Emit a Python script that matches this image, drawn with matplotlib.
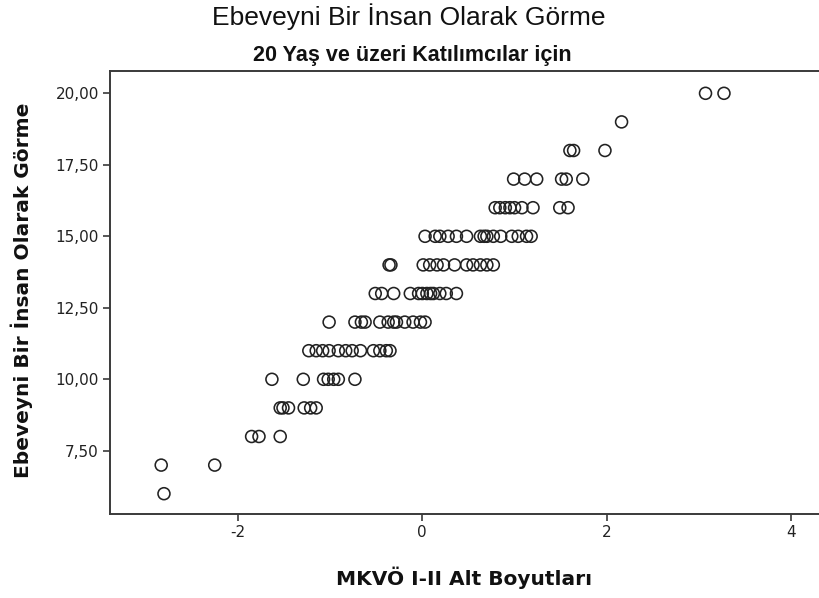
import matplotlib
matplotlib.use("Agg")
import matplotlib.pyplot as plt
from matplotlib.ticker import FuncFormatter

# ---- data ----
y_levels = [6, 7, 8, 9, 10, 11, 12, 13, 14, 15, 16, 17, 18, 19, 20]
x_at_6 = [-2.80]
x_at_7 = [-2.83, -2.25]
x_at_8 = [-1.85, -1.77, -1.54]
x_at_9 = [-1.54, -1.51, -1.45, -1.28, -1.21, -1.15]
x_at_10 = [-1.63, -1.29, -1.07, -1.02, -0.96, -0.91, -0.73]
x_at_11 = [-1.23, -1.15, -1.08, -1.01, -0.91, -0.83, -0.76, -0.67, -0.53, -0.46, -0.39, -0.35]
x_at_12 = [-1.01, -0.73, -0.66, -0.62, -0.46, -0.37, -0.31, -0.28, -0.19, -0.10, -0.02, 0.03]
x_at_13 = [-0.51, -0.44, -0.31, -0.13, -0.04, 0.00, 0.05, 0.09, 0.12, 0.19, 0.26, 0.37]
x_at_14 = [-0.36, -0.34, 0.01, 0.08, 0.16, 0.23, 0.35, 0.48, 0.55, 0.63, 0.70, 0.77]
x_at_15 = [0.03, 0.14, 0.19, 0.28, 0.37, 0.48, 0.63, 0.67, 0.70, 0.77, 0.85, 0.97, 1.04, 1.13, 1.18]
x_at_16 = [0.79, 0.84, 0.90, 0.95, 1.00, 1.08, 1.20, 1.49, 1.58]
x_at_17 = [0.99, 1.11, 1.24, 1.51, 1.56, 1.74]
x_at_18 = [1.60, 1.64, 1.98]
x_at_19 = [2.16]
x_at_20 = [3.07, 3.27]

x_groups = [x_at_6, x_at_7, x_at_8, x_at_9, x_at_10, x_at_11, x_at_12, x_at_13,
            x_at_14, x_at_15, x_at_16, x_at_17, x_at_18, x_at_19, x_at_20]

x_ticks = [-2, 0, 2, 4]
y_ticks = [7.5, 10.0, 12.5, 15.0, 17.5, 20.0]

title = "Ebeveyni Bir İnsan Olarak Görme"
subtitle = "20 Yaş ve üzeri Katılımcılar için"
x_label = "MKVÖ I-II Alt Boyutları"
y_label = "Ebeveyni Bir İnsan Olarak Görme"

xs, ys = [], []
for yv, grp in zip(y_levels, x_groups):
    for xv in grp:
        xs.append(xv)
        ys.append(yv)

fig = plt.figure(figsize=(8.19, 5.98), dpi=100)
L, R, B, T = 110, 819, 514, 71
ax = fig.add_axes([L / 819, (598 - B) / 598, (R - L) / 819, (B - T) / 598])

ax.scatter(xs, ys, s=8.6 ** 2, facecolors="none", edgecolors="#222222", linewidths=1.15, zorder=3)

ax.set_xlim(-3.385, 4.30)
ax.set_ylim(5.29, 20.78)
ax.set_xticks(x_ticks)
ax.set_yticks(y_ticks)
ax.yaxis.set_major_formatter(FuncFormatter(lambda v, p: f"{v:.2f}".replace(".", ",")))
ax.xaxis.set_major_formatter(FuncFormatter(lambda v, p: f"{v:g}"))

for side in ["left", "bottom", "top"]:
    ax.spines[side].set_color("#3a3a3a")
    ax.spines[side].set_linewidth(1.4)
ax.spines["right"].set_visible(False)
ax.tick_params(direction="out", length=5, width=1.2, color="#3a3a3a",
               labelsize=11, labelcolor="#222222", pad=3)
for lab in ax.get_xticklabels() + ax.get_yticklabels():
    lab.set_family("DejaVu Sans")

ax.set_xlabel(x_label, fontsize=14.5, fontweight="bold", family="DejaVu Sans",
              color="#111111", va="center")
ax.set_ylabel(y_label, fontsize=14.5, fontweight="bold", family="DejaVu Sans",
              color="#111111", va="center")
ax.xaxis.set_label_coords((464 - L) / (R - L), (B - 578) / (B - T))
ax.yaxis.set_label_coords((22 - L) / (R - L), (B - 290) / (B - T))

fig.text(409 / 819, 1 - 17 / 598, title, ha="center", va="center",
         fontsize=19, family="Liberation Sans", color="#111111")
fig.text(412 / 819, 1 - 56 / 598, subtitle, ha="center", va="center",
         fontsize=15.5, fontweight="bold", family="Liberation Sans", color="#111111")

fig.savefig("out.png", dpi=100)
